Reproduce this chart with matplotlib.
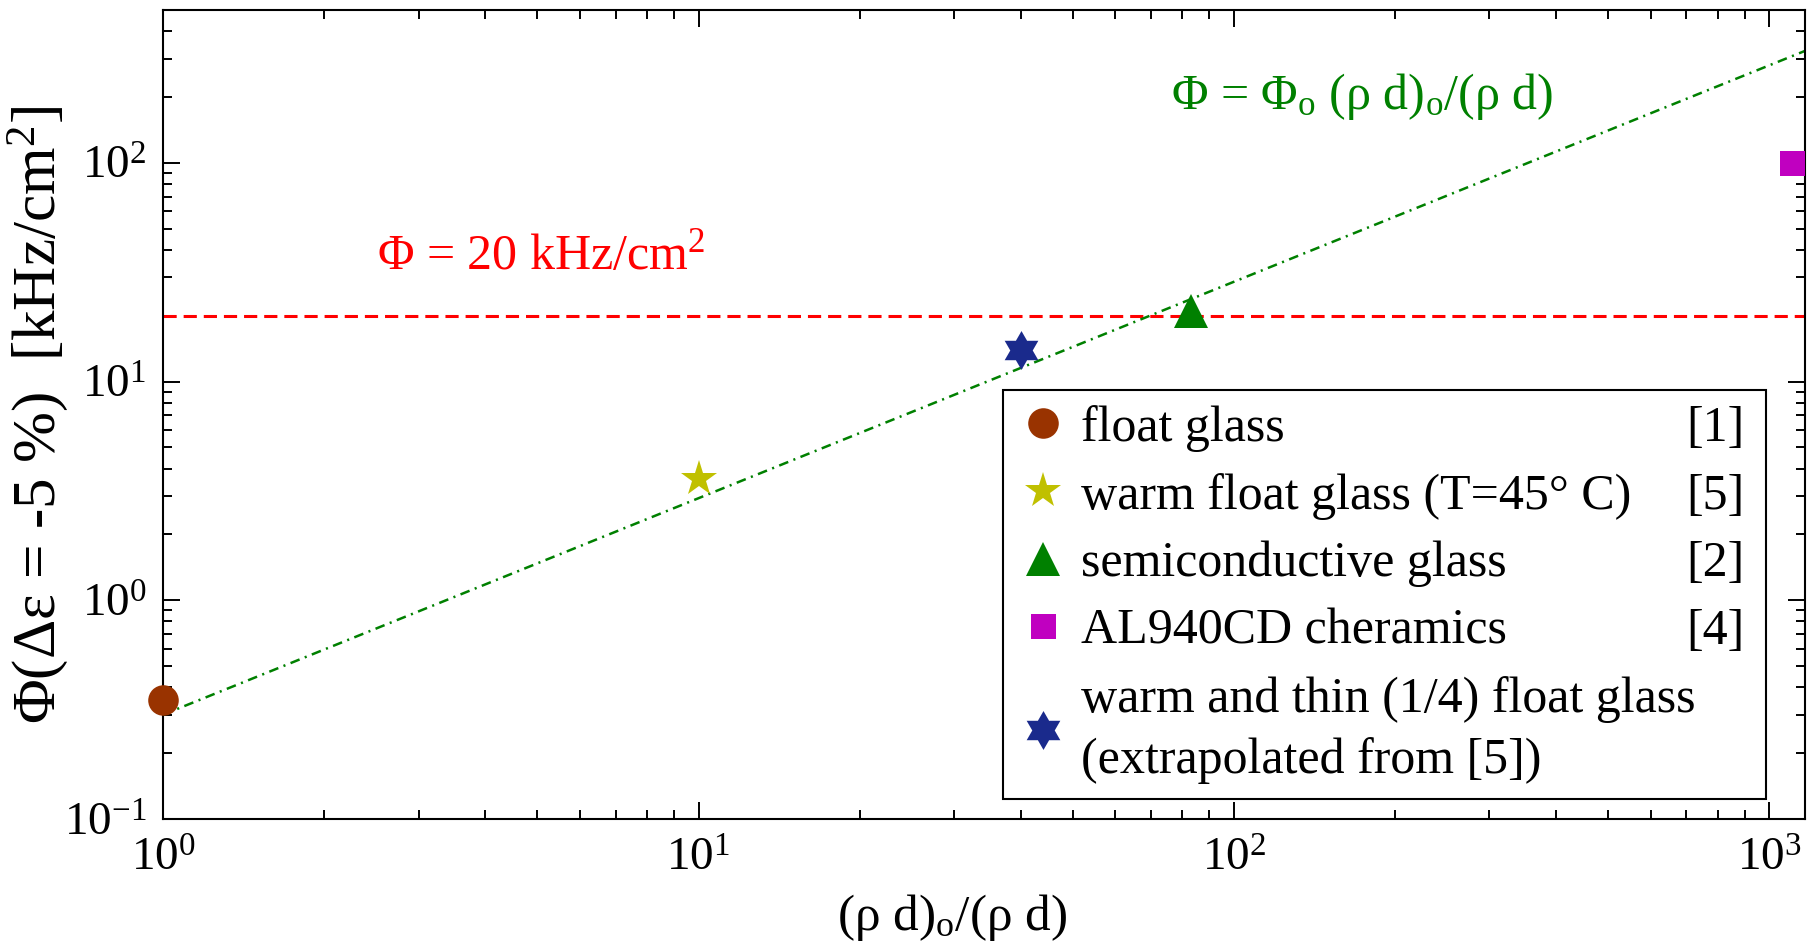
import numpy as np
import matplotlib
matplotlib.use("Agg")
import matplotlib.pyplot as plt
from matplotlib.path import Path

plt.rcParams['font.family'] = ['Liberation Serif', 'DejaVu Serif']
plt.rcParams['mathtext.fontset'] = 'custom'
plt.rcParams['mathtext.rm'] = 'Liberation Serif'
plt.rcParams['mathtext.it'] = 'Liberation Serif:italic'
plt.rcParams['mathtext.bf'] = 'Liberation Serif:bold'
plt.rcParams['lines.scale_dashes'] = False

# measured points
labels = ['float glass',
          'warm float glass (T=45\u00b0 C)',
          'semiconductive glass',
          'AL940CD cheramics',
          'warm and thin (1/4) float glass\n(extrapolated from [5])']
refs = ['[1]', '[5]', '[2]', '[4]', '']
x_vals = [1.0, 10.0, 83.0, 1100.0, 40.0]
y_vals = [0.35, 3.6, 21.0, 100.0, 14.0]
colors = ['#993300', '#c0c000', '#008000', '#c000c0', '#1a2a8c']

hexagram = Path.unit_regular_star(6, 0.577)
markers = ['o', '*', '^', 's', hexagram]
msizes = [22, 27, 25, 18, 28]

# scaling line Phi = Phi_o (rho d)_o/(rho d), end points
line_x = [1.0, 1165.0]
line_y = [0.3, 325.0]
limit_phi = 20.0

fig = plt.figure(figsize=(18.16, 9.44), dpi=100)
ax = fig.add_axes([0.0898, 0.1324, 0.9041, 0.8570])
ax.set_xscale('log')
ax.set_yscale('log')

ax.axhline(limit_phi, color='#ff0000', lw=2.2, dashes=(9.5, 5))
ax.plot(line_x, line_y, color='#008000', lw=1.8, dashes=(7, 4, 1.5, 4))

for xv, yv, c, m, s, lab in zip(x_vals, y_vals, colors, markers, msizes, labels):
    ax.plot([xv], [yv], linestyle='none', marker=m, ms=s, color=c,
            markeredgewidth=0, label=lab, clip_on=False, zorder=5)

ax.set_xlim(1, 1165)
ax.set_ylim(0.1, 500)

for sp in ax.spines.values():
    sp.set_linewidth(1.5)
ax.tick_params(which='both', direction='in', top=True, right=True, width=1.4)
ax.tick_params(which='major', length=12, labelsize=34)
ax.tick_params(which='minor', length=6.5)
ax.tick_params(axis='x', pad=14)
ax.tick_params(axis='y', pad=12)

ax.set_xlabel('(\u03c1 d)$_{\\mathrm{o}}$/(\u03c1 d)', fontsize=37)
ax.xaxis.set_label_coords(0.4805, -0.090)
ax.set_ylabel('\u03a6(\u0394\u03b5 = -5 %)  [kHz/cm$^2$]', fontsize=44)
ax.yaxis.set_label_coords(-0.0566, 0.5)

ax.text(0.130, 0.680, '\u03a6 = 20 kHz/cm$^2$', color='#ff0000', fontsize=36,
        transform=ax.transAxes, va='baseline', ha='left')
ax.text(0.614, 0.878, '\u03a6 = \u03a6$_{\\mathrm{o}}$ (\u03c1 d)$_{\\mathrm{o}}$/(\u03c1 d)',
        color='#008000', fontsize=36, transform=ax.transAxes, va='baseline', ha='left')

leg = ax.legend(loc='lower left', bbox_to_anchor=(0.5116, 0.0247, 0.4644, 0.498),
                mode='expand', borderaxespad=0, fontsize=36, frameon=True,
                fancybox=False, framealpha=1, edgecolor='black',
                handlelength=1.0, handletextpad=0.25, borderpad=0.3,
                labelspacing=0.42, numpoints=1)
leg.get_frame().set_linewidth(1.5)
for txt in leg.get_texts():
    txt.set_linespacing(1.4)

# reference numbers, right aligned on the legend rows
fig.canvas.draw()
for txt, ref in zip(leg.get_texts(), refs):
    if not ref:
        continue
    bx, by = txt.get_transform().transform(txt.get_position())
    ya = ax.transAxes.inverted().transform((bx, by))[1]
    ax.text(0.9635, ya, ref, fontsize=36, transform=ax.transAxes,
            ha='right', va='baseline', zorder=6)

fig.savefig('out.png', dpi=100)
